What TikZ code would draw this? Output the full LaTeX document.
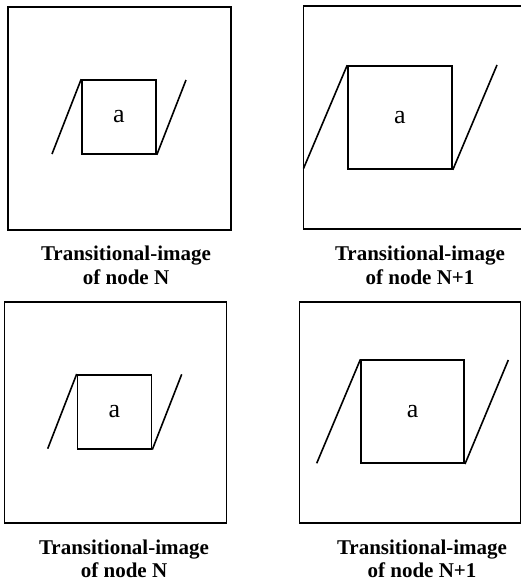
\documentclass[tikz,border=0pt]{standalone}
\usepackage{fontspec}
\setmainfont{Liberation Serif}
\begin{document}
\begin{tikzpicture}[x=1pt,y=-1pt,line width=1.6pt,line join=miter,
  outerbox/.style={draw,rectangle,inner sep=0pt,anchor=north west},
  innerbox/.style={draw,rectangle,inner sep=0pt,font=\fontsize{26}{30}\selectfont},
  caption/.style={anchor=base,inner sep=0pt,font=\bfseries\fontsize{21}{24}\selectfont}]
\useasboundingbox (0,0) rectangle (521,581);
\clip (0,0) rectangle (521,581);

% Panel 1 (top left)
\node[outerbox,minimum width=223pt,minimum height=223pt] (o1) at (7,6) {};
\node[innerbox,minimum width=74pt,minimum height=74pt] (s1) at (119,117) {a};
\coordinate (l1) at (52,154);
\coordinate (r1) at (186,80);
\draw (l1) -- (s1.north west);
\draw (s1.south east) -- (r1);
\node[caption] (c1a) at (126,260) {Transitional-image};
\node[caption] (c1b) at (126,284) {of node N};

% Panel 2 (top right)
\coordinate (o2tl) at (303.5,6);
\coordinate (o2tr) at (530,6);
\coordinate (o2bl) at (303.5,229);
\coordinate (o2br) at (530,229);
\draw (o2tr) -- (o2tl) -- (o2bl) -- (o2br);
\node[innerbox,minimum width=104pt,minimum height=103pt] (s2) at (400,117.5) {a};
\coordinate (l2) at (303.5,168.5);
\coordinate (r2) at (497,65);
\draw (l2) -- (s2.north west);
\draw (s2.south east) -- (r2);
\node[caption] (c2a) at (420,260) {Transitional-image};
\node[caption] (c2b) at (420,284) {of node N+1};

% Panel 3 (bottom left)
\node[outerbox,minimum width=222pt,minimum height=221pt] (o3) at (3.5,301) {};
\node[innerbox,minimum width=74pt,minimum height=74pt] (s3) at (114.5,411.8) {a};
\coordinate (l3) at (47.7,448.7);
\coordinate (r3) at (181.7,374.3);
\draw (l3) -- (s3.north west);
\draw (s3.south east) -- (r3);
\node[caption] (c3a) at (124,554) {Transitional-image};
\node[caption] (c3b) at (124,577.5) {of node N};

% Panel 4 (bottom right)
\node[outerbox,minimum width=221pt,minimum height=221pt] (o4) at (298.5,301) {};
\node[innerbox,minimum width=103pt,minimum height=103pt] (s4) at (412.7,411.7) {a};
\coordinate (l4) at (316.7,463.3);
\coordinate (r4) at (508.3,360);
\draw (l4) -- (s4.north west);
\draw (s4.south east) -- (r4);
\node[caption] (c4a) at (422,554) {Transitional-image};
\node[caption] (c4b) at (422,577.5) {of node N+1};
\end{tikzpicture}
\end{document}
